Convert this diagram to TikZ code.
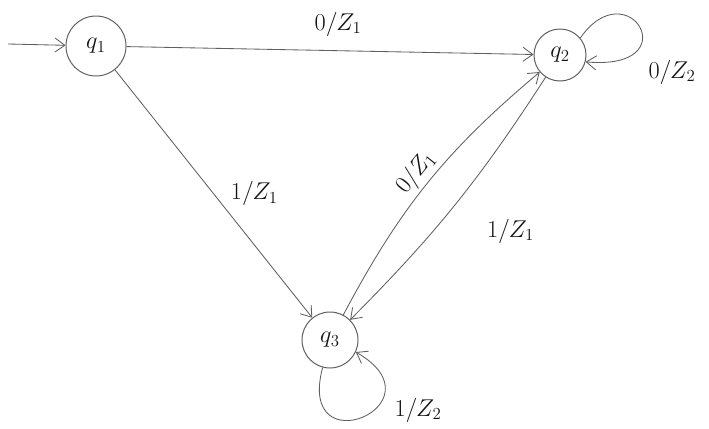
\documentclass[tikz,border=0pt]{standalone}
\usepackage{xcolor}
\definecolor{pencil}{RGB}{95,95,95}
\definecolor{ink}{RGB}{20,20,20}
\usepackage{tikz}
\usetikzlibrary{arrows.meta,positioning,calc}
\tikzset{
  %% states of the machine
  state/.style={circle, draw=pencil, line width=0.7pt, inner sep=0pt,
                minimum size=1.4cm, font=\LARGE, text=ink},
  %% transitions
  trans/.style={draw=pencil, line width=0.6pt,
                -{Straight Barb[length=7pt,width=10pt]}},
  lbl/.style={font=\LARGE, text=ink, inner sep=2pt},
}
\begin{document}
\begin{tikzpicture}[x=0.025cm,y=-0.025cm]
\useasboundingbox (0,0) rectangle (709,428);
\fill[white] (0,0) rectangle (709,428);

\node[state,minimum size=1.5cm] (q1) at (96,46) {$q_1$};
\node[state,minimum size=1.3cm] (q2) at (560,55) {$q_2$};
\node[state,minimum size=1.4cm] (q3) at (330,340) {$q_3$};
\coordinate (start) at (8,44);

%% start arrow
\draw[trans] (start) -- (q1);

%% q1 -> q2, q1 -> q3
\draw[trans] (q1) -- node[lbl,above=8pt,pos=0.52] {$0/Z_1$} (q2);
\draw[trans] (q1) -- node[lbl,right=10pt,pos=0.5] {$1/Z_1$} (q3);

%% between q2 and q3
\draw[trans] (q3) to[bend left=11]
  node[lbl,sloped,above,pos=0.5] {$0/Z_1$} (q2);
\draw[trans] (q2) to[bend left=6]
  node[lbl,right=36pt,pos=0.62] {$1/Z_1$} (q3);

%% self loops
\draw[trans] (q2.40) .. controls +(55:2.1cm) and +(-5:2.6cm) .. (q2.-15);
\node[lbl] (o2) at (672,72) {$0/Z_2$};
\draw[trans] (q3.255) .. controls +(255:2.6cm) and +(-30:2.6cm) .. (q3.-25);
\node[lbl] (o3) at (418,410) {$1/Z_2$};
\end{tikzpicture}
\end{document}
